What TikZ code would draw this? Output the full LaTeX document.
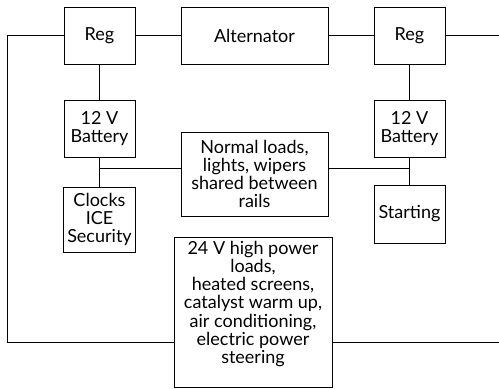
\documentclass[tikz,border=0pt]{standalone}
\usepackage{fontspec}
\setmainfont{Lato}
\usetikzlibrary{calc}

\tikzset{
    unit/.style={draw, line width=1pt, align=center, inner sep=1pt,
        font=\fontsize{18}{18.2}\selectfont},
    wire/.style={line width=1pt},
}

\begin{document}
\begin{tikzpicture}[x=1pt,y=-1pt]
    \useasboundingbox (0,0) rectangle (499,389);
    % top row
    \node[unit, minimum width=71pt, minimum height=57pt] (regL) at (99.5,35.5) {Reg};
    \node[unit, minimum width=147pt, minimum height=57pt] (alt) at (254.5,35.5) {Alternator};
    \node[unit, minimum width=71pt, minimum height=57pt] (regR) at (409.5,35.5) {Reg};
    % batteries
    \node[unit, minimum width=71pt, minimum height=57pt] (batL) at (99.5,128.5) {12 V\\Battery};
    \node[unit, minimum width=71pt, minimum height=57pt] (batR) at (409.5,128.5) {12 V\\Battery};
    % loads
    \node[unit, minimum width=147pt, minimum height=84pt] (normal) at (254.5,174) {Normal loads,\\lights, wipers\\shared between\\rails};
    \node[unit, minimum width=72pt, minimum height=65pt] (clocks) at (99.5,219.5) {Clocks\\ICE\\Security};
    \node[unit, minimum width=71pt, minimum height=58pt] (start) at (409.5,214) {Starting};
    \node[unit, minimum width=158pt, minimum height=150pt] (hv) at (253,312) {};
    \node[align=center, inner sep=0pt, font=\fontsize{18}{18.2}\selectfont] (hvtext) at (253,304)
        {24 V high power\\loads,\\heated screens,\\catalyst warm up,\\air conditioning,\\electric power\\steering};

    \coordinate (lt) at (7,35.5);
    \coordinate (lb) at (7,342);
    \coordinate (rt) at (499,35.5);
    \coordinate (rb) at (499,342);
    \coordinate (jl) at (99.5,168);
    \coordinate (jr) at (409.5,168);

    \draw[wire] (regL) -- (alt) -- (regR);
    \draw[wire] (regR) -- (rt);
    \draw[wire] (regL) -- (lt) -- (lb) -- (lb -| hv.west);
    \draw[wire] (hv.east |- rb) -- (rb);
    \draw[wire] (regL) -- (batL);
    \draw[wire] (regR) -- (batR);
    \draw[wire] (batL) -- (clocks);
    \draw[wire] (batR) -- (start);
    \draw[wire] (jl) -- (jl -| normal.west);
    \draw[wire] (jr) -- (jr -| normal.east);
\end{tikzpicture}
\end{document}
